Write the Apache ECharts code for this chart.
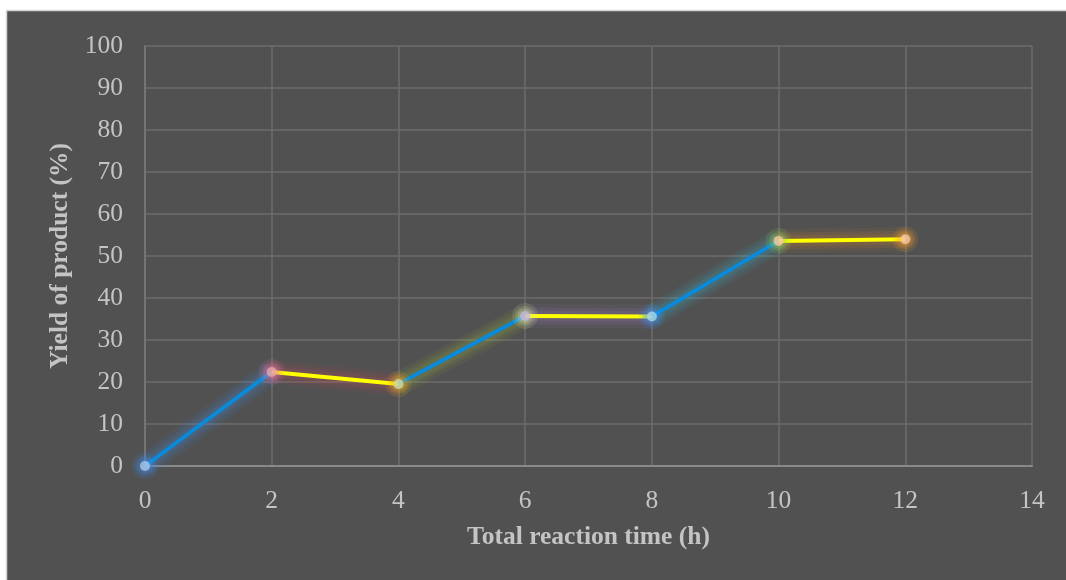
<!DOCTYPE html>
<html>
<head>
<meta charset="utf-8">
<script src="https://cdn.jsdelivr.net/npm/echarts@6/dist/echarts.min.js"></script>
<style>
html,body{margin:0;padding:0;background:#ffffff;}
#chart{width:1066px;height:580px;}
</style>
</head>
<body>
<div id="chart"></div>
<script>
// Data
var times = [0, 2, 4, 6, 8, 10, 12];
var yields = [0, 22.4, 19.5, 35.7, 35.6, 53.6, 54.0];
var xTicks = [0, 2, 4, 6, 8, 10, 12, 14];
var yTicks = [0, 10, 20, 30, 40, 50, 60, 70, 80, 90, 100];
var xTitle = 'Total reaction time (h)';
var yTitle = 'Yield of product (%)';

// Styles
var segColors = ['#0a8ad8', '#ffff00', '#0a8ad8', '#ffff00', '#0a8ad8', '#ffff00'];
var segGlowRGB = ['70,140,230', '210,80,90', '160,190,60', '170,130,210', '60,180,210', '230,140,40'];
var markerColors = ['#aac8ec', '#e8a8a8', '#c8dcaa', '#c8b8dc', '#a8d8e8', '#f8c8a8', '#f8c8a8'];
var markerGlowRGB = ['60,140,240', '240,120,170', '250,170,30', '220,230,170', '60,150,250', '150,210,90', '250,160,40'];
var glowLineWidths = [24, 17, 11];
var glowLineAlpha = [0.08, 0.1, 0.12];
var glowDotSizes = [26, 20, 15];
var glowDotAlpha = [0.17, 0.22, 0.3];

var series = [];
var i, j;
for (j = 0; j < glowLineWidths.length; j++) {
  for (i = 0; i < times.length - 1; i++) {
    series.push({
      type: 'line',
      data: [[times[i], yields[i]], [times[i + 1], yields[i + 1]]],
      symbol: 'none',
      z: 2,
      lineStyle: { color: 'rgba(' + segGlowRGB[i] + ',' + glowLineAlpha[j] + ')', width: glowLineWidths[j], cap: 'butt' },
      silent: true,
      animation: false
    });
  }
}
for (i = 0; i < times.length - 1; i++) {
  series.push({
    type: 'line',
    data: [[times[i], yields[i]], [times[i + 1], yields[i + 1]]],
    symbol: 'none',
    z: 3,
    lineStyle: { color: segColors[i], width: 4 },
    silent: true,
    animation: false
  });
}
for (j = 0; j < glowDotSizes.length; j++) {
  series.push({
    type: 'scatter',
    z: 4,
    symbolSize: glowDotSizes[j],
    silent: true,
    animation: false,
    data: times.map(function (t, k) {
      return {
        value: [t, yields[k]],
        itemStyle: { color: 'rgba(' + markerGlowRGB[k] + ',' + glowDotAlpha[j] + ')' }
      };
    })
  });
}
series.push({
  type: 'scatter',
  z: 5,
  symbolSize: 10,
  animation: false,
  data: times.map(function (t, k) {
    return {
      value: [t, yields[k]],
      itemStyle: { color: markerColors[k] }
    };
  })
});

var labelStyle = { color: '#c4c4c4', fontFamily: 'Liberation Serif', fontSize: 25.5 };
var nameStyle = { color: '#c4c4c4', fontFamily: 'Liberation Serif', fontSize: 25.5, fontWeight: 'bold' };

var chart = echarts.init(document.getElementById('chart'), null, { renderer: 'canvas' });
chart.setOption({
  backgroundColor: 'transparent',
  animation: false,
  graphic: [{
    type: 'rect',
    z: -10,
    silent: true,
    shape: { x: 6.5, y: 10.5, width: 1070, height: 580 },
    style: { fill: '#515151', stroke: '#d6d6d6', lineWidth: 1.5 }
  }],
  grid: { left: 145, right: 34, top: 46, bottom: 114 },
  xAxis: {
    type: 'value',
    min: xTicks[0],
    max: xTicks[xTicks.length - 1],
    interval: xTicks[1] - xTicks[0],
    name: xTitle,
    nameLocation: 'middle',
    nameGap: 58,
    nameTextStyle: nameStyle,
    axisLine: { show: true, lineStyle: { color: '#8a8a8a', width: 2 } },
    axisTick: { show: false },
    axisLabel: Object.assign({ margin: 22 }, labelStyle),
    splitLine: { show: true, lineStyle: { color: '#6c6c6c', width: 1.5 } }
  },
  yAxis: {
    type: 'value',
    min: yTicks[0],
    max: yTicks[yTicks.length - 1],
    interval: yTicks[1] - yTicks[0],
    name: yTitle,
    nameLocation: 'middle',
    nameGap: 70,
    nameTextStyle: nameStyle,
    axisLine: { show: true, lineStyle: { color: '#7a7a7a', width: 1.5 } },
    axisTick: { show: false },
    axisLabel: Object.assign({ margin: 22 }, labelStyle),
    splitLine: { show: true, lineStyle: { color: '#6c6c6c', width: 1.5 } }
  },
  series: series
});
</script>
</body>
</html>
